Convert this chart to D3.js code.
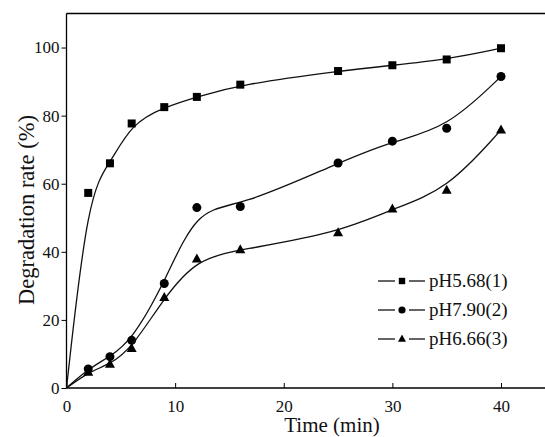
<!DOCTYPE html>
<html><head><meta charset="utf-8">
<script src="https://cdn.jsdelivr.net/npm/d3@7"></script>
<style>body{margin:0;background:#fff}svg{display:block}</style>
</head><body>
<svg id="c" width="545" height="437"></svg>
<script>
const times = [0, 2, 4, 6, 9, 12, 16, 25, 30, 35, 40];
const pH568 = [0, 57.3, 66.0, 77.7, 82.5, 85.5, 89.1, 93.1, 94.8, 96.5, 99.8];
const pH790 = [0, 5.6, 9.2, 14.0, 30.7, 53.0, 53.3, 66.1, 72.5, 76.3, 91.5];
const pH666 = [0, 4.6, 7.0, 11.6, 26.6, 37.9, 40.6, 45.6, 52.6, 58.1, 75.8];
const seriesNames = ["pH5.68(1)", "pH7.90(2)", "pH6.66(3)"];
const markerTypes = ["square", "circle", "triangle"];
const xTicks = [0, 10, 20, 30, 40];
const yTicks = [0, 20, 40, 60, 80, 100];

const svg = d3.select("#c");
const L = 66.5, R = 545, T = 13.5, B = 388;
const x = d3.scaleLinear().domain([0, 44.05]).range([L, R]);
const y = d3.scaleLinear().domain([0, 110]).range([B, T]);
const font = "'Liberation Serif', 'Times New Roman', serif";

svg.append("line").attr("x1", L).attr("x2", R).attr("y1", T).attr("y2", T)
  .attr("stroke", "#000").attr("stroke-width", 1.3);

const xAxis = svg.append("g").attr("transform", `translate(0,${B})`)
  .call(d3.axisBottom(x).tickValues(xTicks).tickSizeInner(-5).tickSizeOuter(0).tickPadding(12));
const yAxis = svg.append("g").attr("transform", `translate(${L},0)`)
  .call(d3.axisLeft(y).tickValues(yTicks).tickSize(5).tickSizeOuter(0).tickPadding(2));
[xAxis, yAxis].forEach(g => {
  g.select(".domain").attr("stroke", "#000").attr("stroke-width", 1.3);
  g.selectAll(".tick line").attr("stroke", "#000").attr("stroke-width", 1);
  g.selectAll("text").attr("font-family", font).attr("font-size", 17).attr("fill", "#111");
});
xAxis.select(".domain").attr("d", `M${L},0H${R}`);
yAxis.select(".domain").attr("d", `M0,${T}V${B}`);

svg.append("text").attr("x", 332).attr("y", 432).attr("text-anchor", "middle")
  .attr("font-family", font).attr("font-size", 21).attr("fill", "#111").text("Time (min)");
svg.append("text").attr("transform", "translate(34,210) rotate(-90)").attr("text-anchor", "middle")
  .attr("font-family", font).attr("font-size", 22.5).attr("fill", "#111").text("Degradation rate (%)");

const allSeries = [pH568, pH790, pH666];
const line = d3.line().x(d => x(d[0])).y(d => y(d[1])).curve(d3.curveBasis);

function marker(g, type, cx, cy, s) {
  if (type === "square") {
    g.append("rect").attr("x", cx - 4 * s).attr("y", cy - 4 * s).attr("width", 8 * s).attr("height", 8 * s).attr("fill", "#000");
  } else if (type === "circle") {
    g.append("circle").attr("cx", cx).attr("cy", cy).attr("r", 4.5 * s).attr("fill", "#000");
  } else {
    g.append("path").attr("d", `M${cx},${cy - 5.5 * s}L${cx + 5 * s},${cy + 3.5 * s}L${cx - 5 * s},${cy + 3.5 * s}Z`).attr("fill", "#000");
  }
}

allSeries.forEach((vals, i) => {
  const pts = times.map((t, j) => [t, vals[j]]);
  svg.append("path").attr("d", line(pts)).attr("fill", "none").attr("stroke", "#111").attr("stroke-width", 1.3);
  const g = svg.append("g");
  pts.slice(1).forEach(p => marker(g, markerTypes[i], x(p[0]), y(p[1]), 1));
});

const lg = svg.append("g");
seriesNames.forEach((name, i) => {
  const ly = 281 + i * 29;
  lg.append("line").attr("x1", 378).attr("x2", 395).attr("y1", ly).attr("y2", ly).attr("stroke", "#111").attr("stroke-width", 1.3);
  lg.append("line").attr("x1", 409).attr("x2", 425).attr("y1", ly).attr("y2", ly).attr("stroke", "#111").attr("stroke-width", 1.3);
  marker(lg, markerTypes[i], 402, ly, 0.8);
  lg.append("text").attr("x", 429).attr("y", ly + 6).attr("font-family", font).attr("font-size", 19)
    .attr("fill", "#111").text(name);
});
</script>
</body></html>
